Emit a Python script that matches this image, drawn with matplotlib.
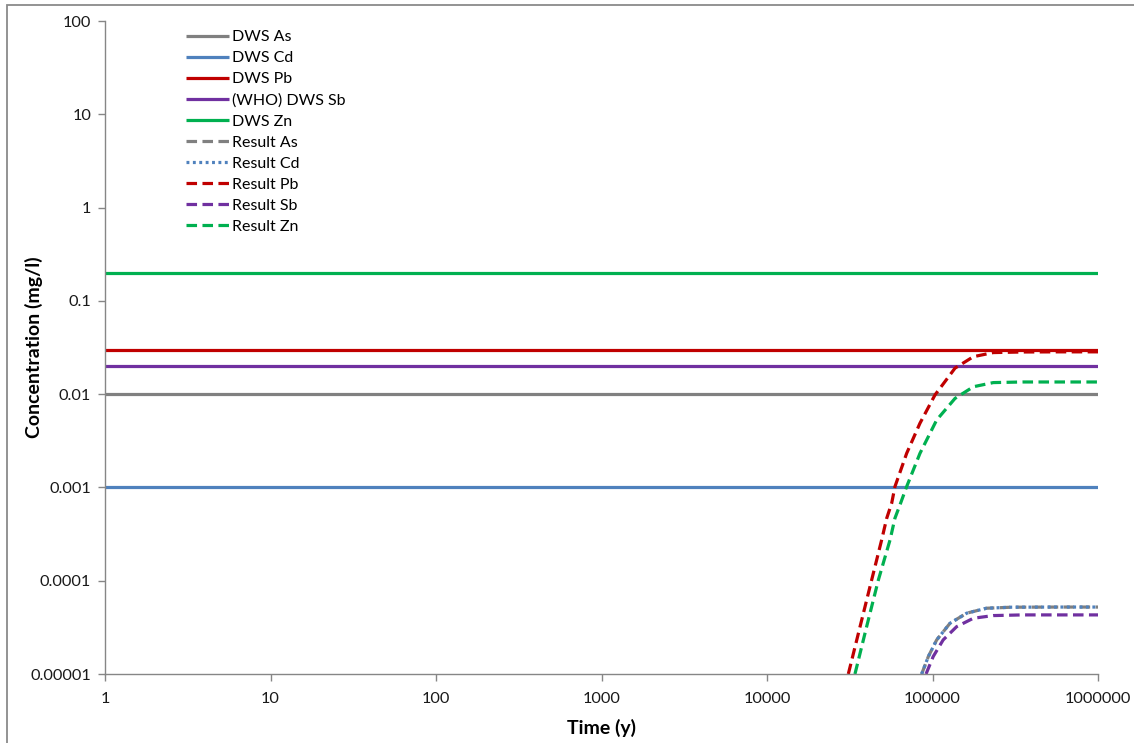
import matplotlib
matplotlib.use("Agg")
import matplotlib.pyplot as plt
from matplotlib.patches import Rectangle

plt.rcParams["font.family"] = ["Lato", "DejaVu Sans"]

# Drinking water standards (mg/l)
dws_labels = ["DWS As", "DWS Cd", "DWS Pb", "(WHO) DWS Sb", "DWS Zn"]
dws_values = [0.01, 0.001, 0.03, 0.02, 0.2]
dws_colors = ["#808080", "#4F81BD", "#C00000", "#7030A0", "#00B050"]

# Modelled concentrations over time (years, mg/l)
time_pb = [31000, 36500, 42900, 49300, 52900, 56700, 59300, 69800, 84000,
           103500, 136800, 176500, 233000, 350000, 600000, 1000000]
conc_pb = [1.0e-5, 3.22e-5, 1.02e-4, 2.74e-4, 4.68e-4, 6.8e-4, 1.02e-3, 2.32e-3,
           4.88e-3, 9.8e-3, 0.019, 0.0252, 0.0279, 0.0283, 0.0284, 0.0284]

time_zn = [34000, 40000, 47100, 55400, 59300, 63600, 69800, 84000, 106000,
           136800, 176500, 233000, 350000, 600000, 1000000]
conc_zn = [1.0e-5, 3.22e-5, 1.02e-4, 2.74e-4, 4.68e-4, 6.5e-4, 1.02e-3, 2.32e-3,
           5.29e-3, 9.0e-3, 0.0120, 0.0133, 0.0135, 0.0135, 0.0135]

time_as = [86000, 94400, 106000, 127600, 161000, 212000, 300000, 600000, 1000000]
conc_as = [1.0e-5, 1.54e-5, 2.32e-5, 3.5e-5, 4.49e-5, 5.07e-5, 5.2e-5, 5.22e-5, 5.22e-5]

time_cd = [86000, 94400, 106000, 127600, 161000, 212000, 300000, 600000, 1000000]
conc_cd = [1.0e-5, 1.54e-5, 2.32e-5, 3.5e-5, 4.49e-5, 5.07e-5, 5.2e-5, 5.22e-5, 5.22e-5]

time_sb = [91400, 101000, 116000, 140000, 176500, 233000, 350000, 600000, 1000000]
conc_sb = [1.0e-5, 1.54e-5, 2.32e-5, 3.22e-5, 3.96e-5, 4.23e-5, 4.3e-5, 4.3e-5, 4.3e-5]

x_ticks = [1, 10, 100, 1000, 10000, 100000, 1000000]
x_tick_labels = ["1", "10", "100", "1000", "10000", "100000", "1000000"]
y_ticks = [1e-5, 1e-4, 1e-3, 1e-2, 1e-1, 1, 10, 100]
y_tick_labels = ["0.00001", "0.0001", "0.001", "0.01", "0.1", "1", "10", "100"]

W, H = 1134, 743
fig = plt.figure(figsize=(W / 100, H / 100), dpi=100)
ax = fig.add_axes([105 / W, 1 - 674 / H, (1098 - 105) / W, (674 - 21) / H])

# Chart frame
fig.patches.append(Rectangle((7 / W, -0.2), 1.5, 1.2 - 5 / H, transform=fig.transFigure,
                             fill=False, edgecolor="#8A8A8A", linewidth=1.3))

lw = 2.3
for lab, val, col in zip(dws_labels, dws_values, dws_colors):
    ax.plot([x_ticks[0], x_ticks[-1]], [val, val], color=col, lw=lw, label=lab,
            solid_capstyle="butt")

dash = (0, (3.3, 1.7))
ax.plot(time_as, conc_as, color="#808080", lw=lw, linestyle=dash, label="Result As")
ax.plot(time_cd, conc_cd, color="#4F81BD", lw=lw, linestyle=(0, (0.9, 1.1)), label="Result Cd")
ax.plot(time_pb, conc_pb, color="#C00000", lw=lw, linestyle=dash, label="Result Pb")
ax.plot(time_sb, conc_sb, color="#7030A0", lw=lw, linestyle=dash, label="Result Sb")
ax.plot(time_zn, conc_zn, color="#00B050", lw=lw, linestyle=dash, label="Result Zn")

ax.set_xscale("log")
ax.set_yscale("log")
ax.set_xlim(1, 1e6)
ax.set_ylim(1e-5, 100)
ax.set_xticks(x_ticks)
ax.set_xticklabels(x_tick_labels)
ax.set_yticks(y_ticks)
ax.set_yticklabels(y_tick_labels)
ax.minorticks_off()

for s in ["top", "right"]:
    ax.spines[s].set_visible(False)
for s in ["left", "bottom"]:
    ax.spines[s].set_color("#868686")
    ax.spines[s].set_linewidth(1.0)
ax.tick_params(axis="both", direction="out", length=5, width=1, color="#868686",
               labelsize=11.8, labelcolor="#1a1a1a")
ax.tick_params(axis="x", pad=8)
ax.tick_params(axis="y", pad=5)

ax.set_xlabel("Time (y)", fontsize=14, fontweight="bold", va="top")
ax.set_ylabel("Concentration (mg/l)", fontsize=14, fontweight="bold")
ax.xaxis.set_label_coords(0.5, -0.069)
ax.yaxis.set_label_coords(-0.0625, 0.5)

ax.legend(loc="upper left", bbox_to_anchor=(186 / W, 1 - 30 / H),
          bbox_transform=fig.transFigure, frameon=False, fontsize=11.5,
          handlelength=2.7, handletextpad=0.2, labelspacing=0.43,
          borderpad=0, borderaxespad=0)

fig.savefig("out.png", dpi=100)
